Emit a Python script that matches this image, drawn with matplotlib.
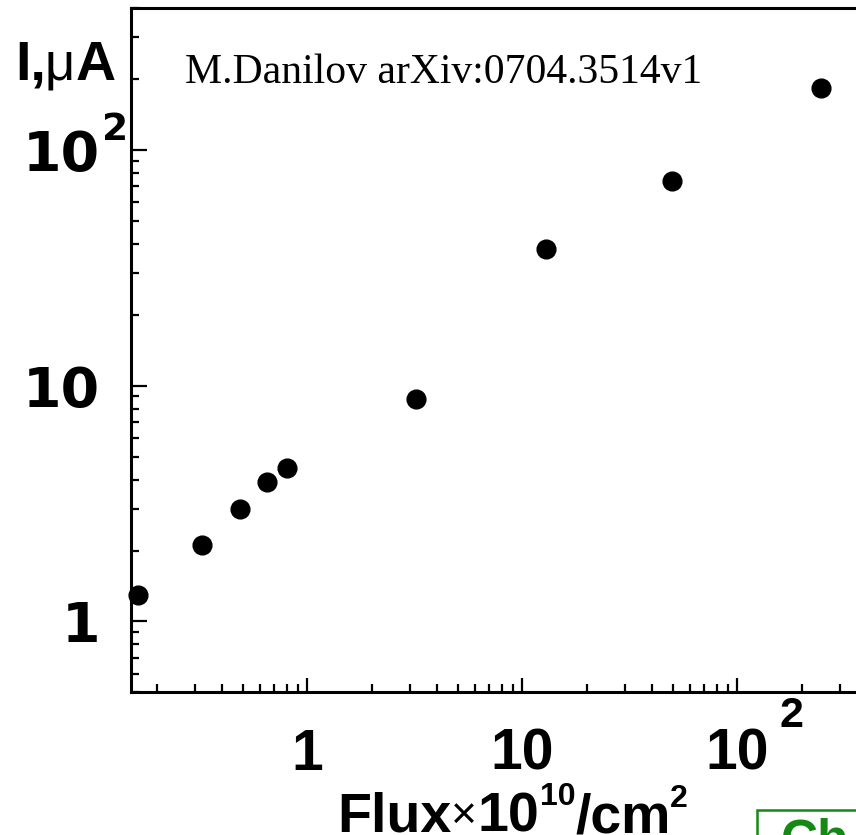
import matplotlib
matplotlib.use("Agg")
import matplotlib.pyplot as plt
import matplotlib.transforms as mtransforms
from matplotlib.patches import Rectangle

# dark current of the irradiated sensor vs. neutron flux
flux = [0.163, 0.324, 0.485, 0.646, 0.805, 3.2, 12.9, 49.4, 244]      # x 10^10 / cm^2
current = [1.29, 2.11, 3.00, 3.89, 4.48, 8.78, 38.1, 73.9, 183]      # uA

x_ticks = [1, 10, 100]
x_tick_labels = ["1", "10", "10"]
x_tick_powers = ["", "", "2"]
y_ticks = [1, 10, 100]
y_tick_labels = ["1", "10", "10"]
y_tick_powers = ["", "", "2"]

plt.rcParams['font.family'] = ['Liberation Sans', 'DejaVu Sans']

W, H = 856, 835
fig = plt.figure(figsize=(W / 100, H / 100), dpi=100)


def pt(pixels):
    return pixels * 72.0 / fig.dpi


# right edge of the frame runs past the page on purpose
ax = fig.add_axes([0.1530, 0.1707, 0.8597, 0.8198])
ax.plot(flux, current, 'o', color='black', markersize=13.5, clip_on=False)
ax.set_xscale('log')
ax.set_yscale('log')
ax.set_xlim(0.151, 400)
ax.set_ylim(0.5, 400)

for side in ax.spines.values():
    side.set_linewidth(2.2)
ax.spines['right'].set_visible(False)

ax.tick_params(which='both', direction='in', top=False, right=False,
               labelbottom=False, labelleft=False, width=1.6)
ax.tick_params(axis='y', which='major', length=11.5)
ax.tick_params(axis='y', which='minor', length=5.8)
ax.tick_params(axis='x', which='major', length=10)
ax.tick_params(axis='x', which='minor', length=5.8)
ax.set_xticks(x_ticks)
ax.set_yticks(y_ticks)


def text_run(x0, base, pieces):
    """Write pieces left to right on one baseline (pixels from the top-left)."""
    prev = None
    for txt, size, weight, rise, gap in pieces:
        kw = dict(fontsize=size, fontweight=weight, ha='left', va='baseline')
        if prev is None:
            prev = fig.text(x0 / W, (H - base + rise) / H, txt, **kw)
        else:
            prev = ax.annotate(txt, xy=(1, (H - base) / H),
                               xycoords=(prev, 'figure fraction'),
                               xytext=(pt(gap), pt(rise)), textcoords='offset points',
                               annotation_clip=False, **kw)
    return prev


# hand-placed tick labels, ROOT style
ybold = dict(fontsize=40, fontweight='bold', family='DejaVu Sans')
ytr = mtransforms.offset_copy(ax.get_yaxis_transform(), fig=fig, x=0, y=-pt(21), units='points')
ysup = mtransforms.offset_copy(ax.get_yaxis_transform(), fig=fig, x=0, y=pt(10), units='points')
for val, lab, pw in zip(y_ticks, y_tick_labels, y_tick_powers):
    ax.text(-0.042, val, lab, transform=ytr, ha='right', va='baseline', **ybold)
    if pw:
        ax.text(-0.0394, val, pw, transform=ysup, ha='left', va='baseline',
                fontsize=27, fontweight='bold', family='DejaVu Sans')

xtr = ax.get_xaxis_transform()
xsup = mtransforms.offset_copy(xtr, fig=fig, x=pt(42), y=0, units='points')
for val, lab, pw in zip(x_ticks, x_tick_labels, x_tick_powers):
    ax.text(val, -0.1132, lab, transform=xtr, ha='center', va='baseline',
            fontsize=41, fontweight='bold')
    if pw:
        ax.text(val, -0.0504, pw, transform=xsup, ha='left', va='baseline',
                fontsize=31, fontweight='bold')

# axis titles
text_run(15, 80, [("I,", 40, 'bold', 0, 0),
                  ("\u03bc", 38, 'normal', 0, -1),
                  ("A", 40, 'bold', 0, 0)])
text_run(337, 832, [("Flux", 40, 'bold', 0, 0),
                    ("\u00d7", 32, 'normal', 4, 0),
                    ("10", 40, 'bold', 0, 0),
                    ("10", 23, 'bold', 27, 1),
                    ("/cm", 40, 'bold', 0, 0),
                    ("2", 23, 'bold', 25, -1)])

fig.text(185 / W, (H - 83) / H, "M.Danilov arXiv:0704.3514v1",
         family='Liberation Serif', fontsize=30, va='baseline')

# green caption box at the page corner
green = '#148a14'
fig.add_artist(Rectangle((757 / W, -0.05), 0.2, 0.05 + (H - 810) / H,
                         transform=fig.transFigure, facecolor='white',
                         edgecolor=green, linewidth=1.8))
fig.text(781 / W, (H - 855) / H, "Ch", color=green, fontsize=37,
         fontweight='bold', va='baseline')

fig.savefig('out.png', dpi=100)
